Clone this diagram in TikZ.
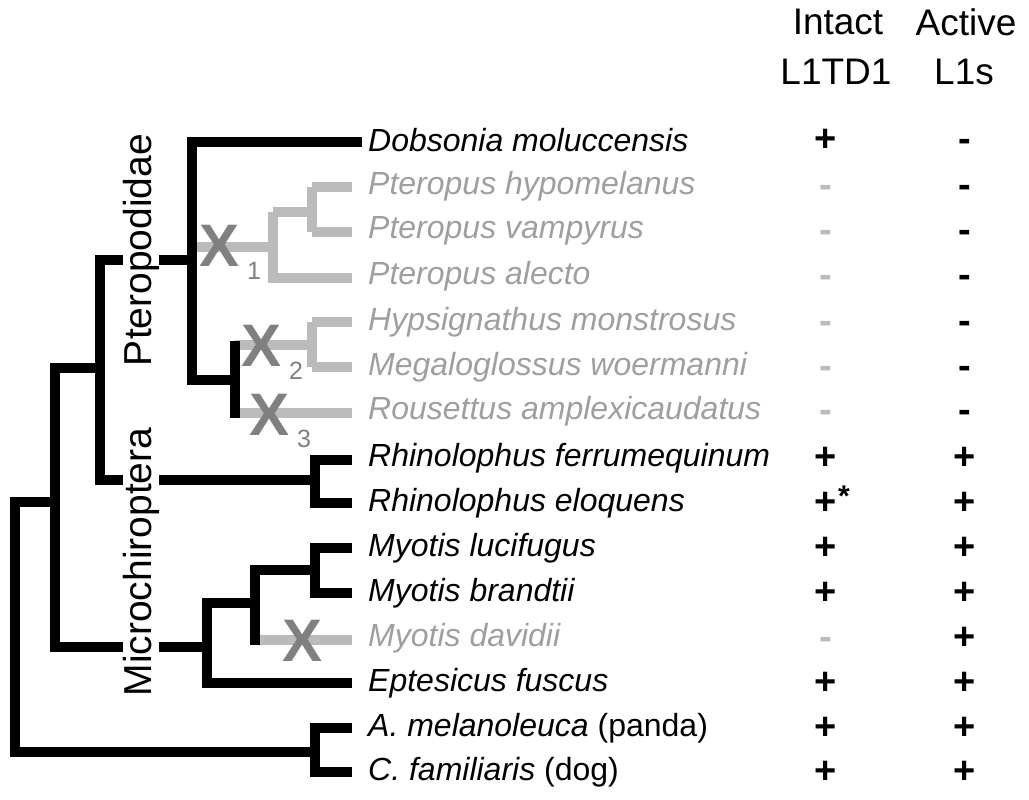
\documentclass[tikz,border=0pt]{standalone}
\usepackage{fontspec}
\setmainfont{Liberation Sans}
\definecolor{lg}{HTML}{BBBBBB}
\definecolor{dg}{HTML}{808080}
\begin{document}
\begin{tikzpicture}[x=1pt,y=-1pt,
  br/.style={line width=10pt,black},
  gb/.style={line width=10pt,lg},
  tx/.style={anchor=west,inner sep=0pt,font=\fontsize{32}{36}\selectfont\itshape},
  gtx/.style={tx,text=lg!85!black},
  sym/.style={inner sep=0pt,font=\fontsize{38}{38}\selectfont\bfseries},
  hd/.style={inner sep=0pt,font=\fontsize{37}{40}\selectfont},
  xm/.style={inner sep=0pt,text=dg,font=\fontsize{60}{60}\selectfont\bfseries},
  sub/.style={inner sep=0pt,text=dg,font=\fontsize{25}{25}\selectfont},
  lab/.style={inner sep=0pt,rotate=90,fill=white,inner xsep=2pt,font=\fontsize{39}{40}\selectfont}]
\useasboundingbox (0,0) rectangle (1029,800);
% header
\node[hd] (h1) at (838,22) {Intact};
\node[hd] (h2) at (836,72) {L1TD1};
\node[hd] (h3) at (966,22) {Active};
\node[hd] (h4) at (964,72) {L1s};
% grey branches
\draw[gb] (192,247) -- (273,247) (273,212) -- (273,278) -- (352,278) (273,212) -- (312,212) (312,187) -- (312,232) (312,187) -- (352,187) (312,232) -- (352,232);
\draw[gb] (235,345) -- (312,345) (312,322) -- (312,367) (312,322) -- (352,322) (312,367) -- (352,367) (235,413) -- (352,413);
\draw[gb] (255,640) -- (352,640);
% black branches
\draw[br,line cap=rect] (357,142) -- (192,142) -- (192,380) -- (235,380);
\draw[br] (235,341) -- (235,418);
\draw[br,line cap=rect] (192,260) -- (100,260) -- (100,480) -- (315,480);
\draw[br] (315,455) -- (315,508) (310,460) -- (352,460) (310,503) -- (352,503);
\draw[br,line cap=rect] (100,368) -- (55,368) -- (55,647) -- (207,647);
\draw[br,line cap=rect] (15,502) -- (55,502);
\draw[br] (207,598) -- (207,688) (202,603) -- (255,603) (202,683) -- (352,683);
\draw[br] (255,565) -- (255,645) (250,570) -- (315,570);
\draw[br] (315,543) -- (315,598) (310,548) -- (352,548) (310,593) -- (352,593);
\draw[br,line cap=rect] (15,502) -- (15,752) -- (315,752);
\draw[br] (315,723) -- (315,777) (310,728) -- (352,728) (310,772) -- (352,772);
% clade labels
\node[lab] (pt) at (141,250) {Pteropodidae};
\node[lab] (mc) at (141,562) {Microchiroptera};
% X marks
\node[xm] (x1) at (220,246) {X}; \node[sub] (s1) at (254,271) {1};
\node[xm] (x2) at (262,346) {X}; \node[sub] (s2) at (296,371) {2};
\node[xm] (x3) at (270,415) {X}; \node[sub] (s3) at (304,439) {3};
\node[xm] (x4) at (303,641) {X};
% taxa
\node[tx] (t1) at (368,140) {Dobsonia moluccensis};
\node[gtx] (t2) at (368,186) {Pteropus hypomelanus};
\node[gtx] (t3) at (368,231) {Pteropus vampyrus};
\node[gtx] (t4) at (368,276) {Pteropus alecto};
\node[gtx] (t5) at (368,322) {Hypsignathus monstrosus};
\node[gtx] (t6) at (368,367) {Megaloglossus woermanni};
\node[gtx] (t7) at (368,411) {Rousettus amplexicaudatus};
\node[tx] (t8) at (368,458) {Rhinolophus ferrumequinum};
\node[tx] (t9) at (368,503) {Rhinolophus eloquens};
\node[tx] (t10) at (368,548) {Myotis lucifugus};
\node[tx] (t11) at (368,593) {Myotis brandtii};
\node[gtx] (t12) at (368,638) {Myotis davidii};
\node[tx] (t13) at (368,683) {Eptesicus fuscus};
\node[tx] (t14) at (368,728) {A. melanoleuca \upshape(panda)};
\node[tx] (t15) at (368,772) {C. familiaris \upshape(dog)};
% columns
\foreach \y/\a in {140/+,458/+,548/+,593/+,683/+,728/+,772/+}{
  \node[sym] at (826,\y) {\a};}
\foreach \y in {458,503,548,593,638,683,728,772}{
  \node[sym] at (965,\y) {+};}
\foreach \y in {186,231,276,322,367,411,638}{
  \node[sym,text=lg] at (826,\y+5) {-};}
\foreach \y in {140,186,231,276,322,367,411}{
  \node[sym] at (965,\y+5) {-};}
\node[sym] (e1) at (826,503) {+}; \node[sym,anchor=west,font=\fontsize{30}{30}\selectfont\bfseries] (st) at (838,496) {*};
\end{tikzpicture}
\end{document}
